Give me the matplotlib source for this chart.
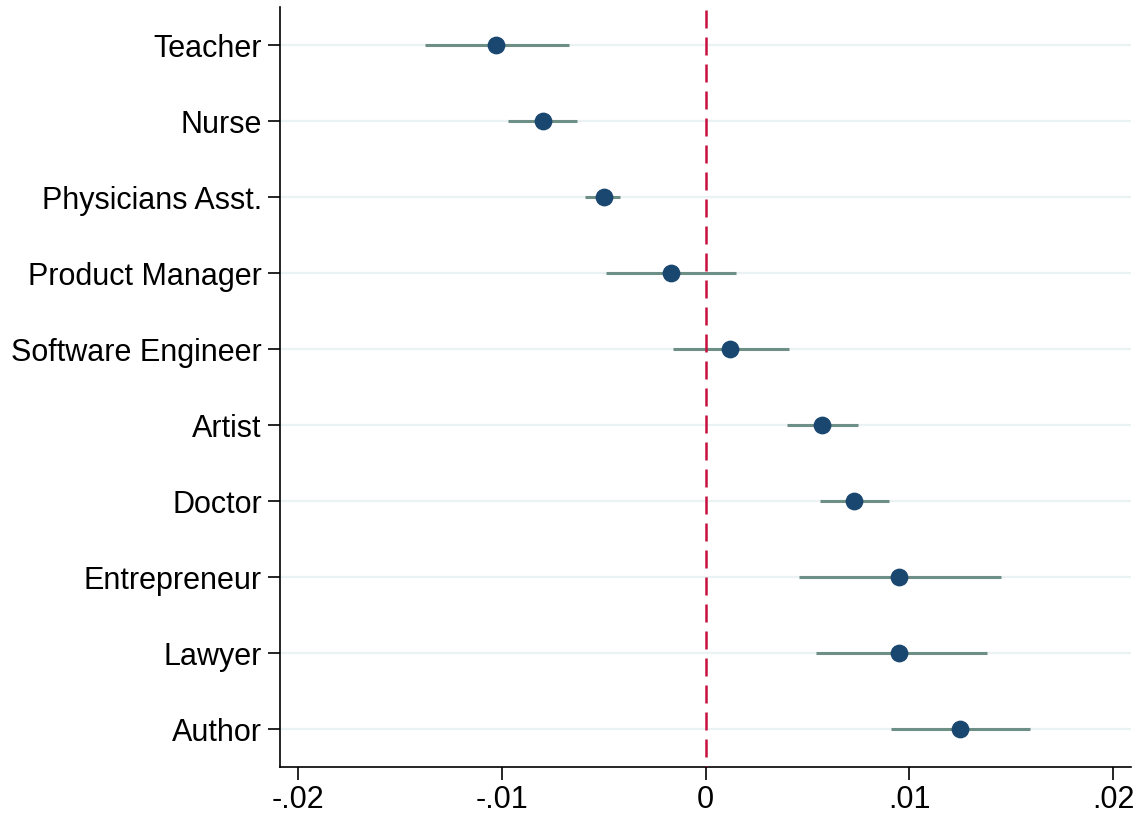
import matplotlib
matplotlib.use("Agg")
import matplotlib.pyplot as plt

# coefficient plot, values
occupations = ["Teacher", "Nurse", "Physicians Asst.", "Product Manager",
               "Software Engineer", "Artist", "Doctor", "Entrepreneur",
               "Lawyer", "Author"]
estimate = [-0.0103, -0.0080, -0.0050, -0.0017, 0.0012,
            0.0057, 0.0073, 0.0095, 0.0095, 0.0125]
ci_low = [-0.0138, -0.0097, -0.0059, -0.0049, -0.0016,
          0.0040, 0.0056, 0.0046, 0.0054, 0.0091]
ci_high = [-0.0067, -0.0063, -0.0042, 0.0015, 0.0041,
           0.0075, 0.0090, 0.0145, 0.0138, 0.0159]
xticks = [-0.02, -0.01, 0, 0.01, 0.02]
xticklabels = ["-.02", "-.01", "0", ".01", ".02"]

plt.rcParams['font.family'] = ['Liberation Sans', 'DejaVu Sans']

fig = plt.figure(figsize=(11.39, 8.13), dpi=100)
ax = fig.add_axes([0.2458, 0.0566, 0.7475, 0.9344])

ypos = list(range(1, len(occupations) + 1))
ylo, yhi = 10.5, 0.5

for y in ypos:
    ax.axhline(y, color='#eaf2f3', lw=1.6, zorder=0)

ax.hlines(ypos, ci_low, ci_high, color='#6e8f85', lw=2.2, zorder=2)
ax.plot(estimate, ypos, 'o', color='#1a476f', ms=11.8, zorder=3)

# reference line drawn top-down so the dash pattern starts at the top
ax.plot([0, 0], [yhi + 0.03, ylo], color='#c8103e', lw=1.8,
        dashes=(7.2, 3.6), zorder=4)

ax.set_xlim(-0.0209, 0.0209)
ax.set_ylim(ylo, yhi)
ax.set_yticks(ypos)
ax.set_yticklabels(occupations)
ax.set_xticks(xticks)
ax.set_xticklabels(xticklabels)

ax.spines['top'].set_visible(False)
ax.spines['right'].set_visible(False)
ax.spines['left'].set_linewidth(1.2)
ax.spines['bottom'].set_linewidth(1.2)
ax.tick_params(axis='both', labelsize=22, length=9, width=1.2, pad=4)

fig.savefig('out.png', dpi=100)
plt.close(fig)
